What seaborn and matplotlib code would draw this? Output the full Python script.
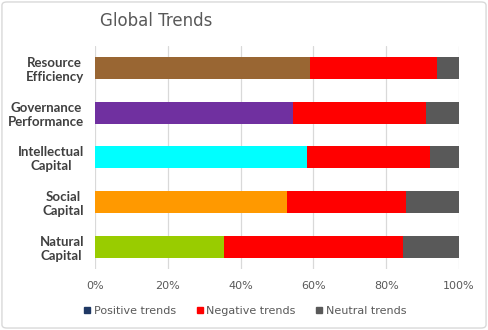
import matplotlib
matplotlib.use("Agg")
import matplotlib.pyplot as plt
import seaborn as sns
import pandas as pd
import numpy as np
from matplotlib.patches import FancyBboxPatch
from matplotlib.lines import Line2D

categories = ["Resource\nEfficiency", "Governance\nPerformance", "Intellectual\nCapital", "Social\nCapital", "Natural\nCapital"]
positive = [59.1, 54.5, 58.2, 52.7, 35.4]
negative = [34.9, 36.3, 33.7, 32.7, 49.3]
neutral = [6.0, 9.2, 8.1, 14.6, 15.3]
positive_colors = ["#996633", "#7030A0", "#00FFFF", "#FF9900", "#99CC00"]
series_names = ["Positive trends", "Negative trends", "Neutral trends"]
tick_labels = ["0%", "20%", "40%", "60%", "80%", "100%"]

df = pd.DataFrame({"category": categories, "positive": positive,
                   "negative": negative, "neutral": neutral})
df["pos_neg"] = df["positive"] + df["negative"]
df["total"] = df["pos_neg"] + df["neutral"]

sns.set_theme(style="white")
plt.rcParams["font.family"] = ["DejaVu Sans"]

fig = plt.figure(figsize=(4.88, 3.30), dpi=100)
ax = fig.add_axes([0.1947, 0.185, 0.7459, 0.676])

sns.barplot(data=df, y="category", x="total", color="#595959", width=0.49,
            saturation=1, ax=ax, orient="h", zorder=2)
sns.barplot(data=df, y="category", x="pos_neg", color="#FF0000", width=0.49,
            saturation=1, ax=ax, orient="h", zorder=3)
sns.barplot(data=df, y="category", x="positive", hue="category",
            palette=positive_colors, width=0.49, saturation=1, ax=ax,
            orient="h", legend=False, zorder=4)
for p in ax.patches:
    p.set_edgecolor("none")
    p.set_linewidth(0)

ax.set_xlim(0, 100)
ax.set_ylim(4.5, -0.5)
ax.set_xticks(np.arange(0, 101, 20))
ax.set_xticklabels(tick_labels, color="#595959", fontsize=8)
ax.set_yticklabels(categories, fontsize=9.5, fontweight="bold", color="#404040",
                   ha="right", linespacing=1.2, family="Lato")
ax.set_xlabel("")
ax.set_ylabel("")
ax.tick_params(axis="both", length=0)
ax.tick_params(axis="x", pad=9)
ax.tick_params(axis="y", pad=8)
for lbl in ax.get_yticklabels():
    lbl.set_multialignment("center")
for s in ax.spines.values():
    s.set_visible(False)
ax.grid(axis="x", color="#D9D9D9", linewidth=0.9, zorder=0)
ax.set_axisbelow(True)

fig.text(0.205, 0.935, "Global Trends", fontsize=12, color="#595959", ha="left", va="center")

handles = [Line2D([0], [0], marker="s", linestyle="none", markersize=5,
                  markerfacecolor=c, markeredgecolor=c)
           for c in ["#1F3864", "#FF0000", "#595959"]]
fig.legend(handles, series_names, loc="center", bbox_to_anchor=(0.5, 0.058),
           ncol=3, frameon=False, fontsize=8, labelcolor="#595959",
           handletextpad=0.1, columnspacing=1.6, handlelength=1.0)

border = FancyBboxPatch((0.004, 0.006), 0.992, 0.988, boxstyle="round,pad=0,rounding_size=0.01",
                        transform=fig.transFigure, facecolor="none",
                        edgecolor="#D9D9D9", linewidth=1.0)
fig.patches.append(border)

fig.savefig("out.png", dpi=100)
